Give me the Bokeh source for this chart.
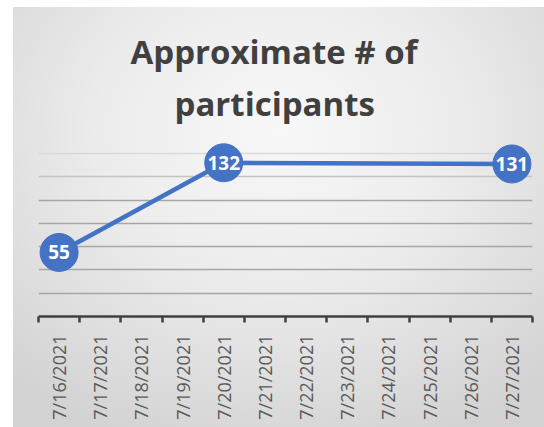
import math
from bokeh.plotting import figure
from bokeh.models import ColumnDataSource, Range1d, FixedTicker, Grid, Title
from bokeh.embed import file_html
from bokeh.resources import INLINE

# ---- data ----
dates = ["7/16/2021", "7/17/2021", "7/18/2021", "7/19/2021", "7/20/2021",
         "7/21/2021", "7/22/2021", "7/23/2021", "7/24/2021", "7/25/2021",
         "7/26/2021", "7/27/2021"]
point_dates = ["7/16/2021", "7/20/2021", "7/27/2021"]
participants = [55, 132, 131]
y_grid_dark = [20, 40, 60, 80, 100]
y_grid_mid = [120]
y_grid_light = [140]
title_line1 = "Approximate # of"
title_line2 = "participants"

BLUE = "#4472C4"

src = ColumnDataSource(dict(
    x=[dates.index(d) for d in point_dates],
    y=participants,
    lbl=[str(v) for v in participants],
))

p = figure(width=544, height=427, output_backend="svg", toolbar_location=None,
           x_range=Range1d(-0.5, len(dates) - 0.5), y_range=Range1d(0, 164),
           min_border_left=38, min_border_right=12, min_border_top=125,
           min_border_bottom=111, outline_line_color=None)
p.title.visible = False
p.background_fill_alpha = 0
p.border_fill_alpha = 0
p.styles = {
    "background": "radial-gradient(ellipse 75% 80% at 50% 30%, #f8f8f8 0%, #ececec 45%, #d2d2d2 100%) 13px 7px / calc(100% - 13px) calc(100% - 7px) no-repeat, #ffffff",
}

# titles (first added sits nearest the plot)
p.add_layout(Title(text=title_line2, align="left", offset=136,
                   text_font="Open Sans", text_font_style="bold",
                   text_font_size="33px", text_color="#404040", standoff=0), "above")
p.add_layout(Title(text=title_line1, align="left", offset=92,
                   text_font="Open Sans", text_font_style="bold",
                   text_font_size="33px", text_color="#404040", standoff=10), "above")

# axes
p.yaxis.visible = False
p.xgrid.visible = False
p.ygrid.visible = False
xa = p.xaxis[0]
xa.ticker = FixedTicker(ticks=list(range(len(dates))),
                        minor_ticks=[i - 0.5 for i in range(len(dates) + 1)])
xa.major_label_overrides = {i: d for i, d in enumerate(dates)}
xa.major_label_orientation = math.pi / 2
xa.major_tick_line_color = None
xa.major_tick_in = 0
xa.major_tick_out = 0
xa.minor_tick_in = 0
xa.minor_tick_out = 6
xa.minor_tick_line_color = "#404040"
xa.minor_tick_line_width = 2.5
xa.axis_line_color = "#404040"
xa.axis_line_width = 2.5
xa.major_label_standoff = 12
xa.major_label_text_font = "Open Sans"
xa.major_label_text_font_size = "18px"
xa.major_label_text_color = "#595959"

for ticks, col in ((y_grid_dark, "#a6a6a6"), (y_grid_mid, "#c4c4c4"), (y_grid_light, "#d9d9d9")):
    g = Grid(dimension=1, ticker=FixedTicker(ticks=ticks),
             grid_line_color=col, grid_line_width=1.5)
    p.add_layout(g, "center")

# series
p.line("x", "y", source=src, line_color=BLUE, line_width=4.5)
p.scatter("x", "y", source=src, size=38, fill_color=BLUE, line_color=BLUE)
p.text("x", "y", text="lbl", source=src, text_align="center", text_baseline="middle",
       text_color="white", text_font_style="bold", text_font_size="19px",
       text_font={"value": "Open Sans"})

open("out.html", "w").write(file_html(p, INLINE))
